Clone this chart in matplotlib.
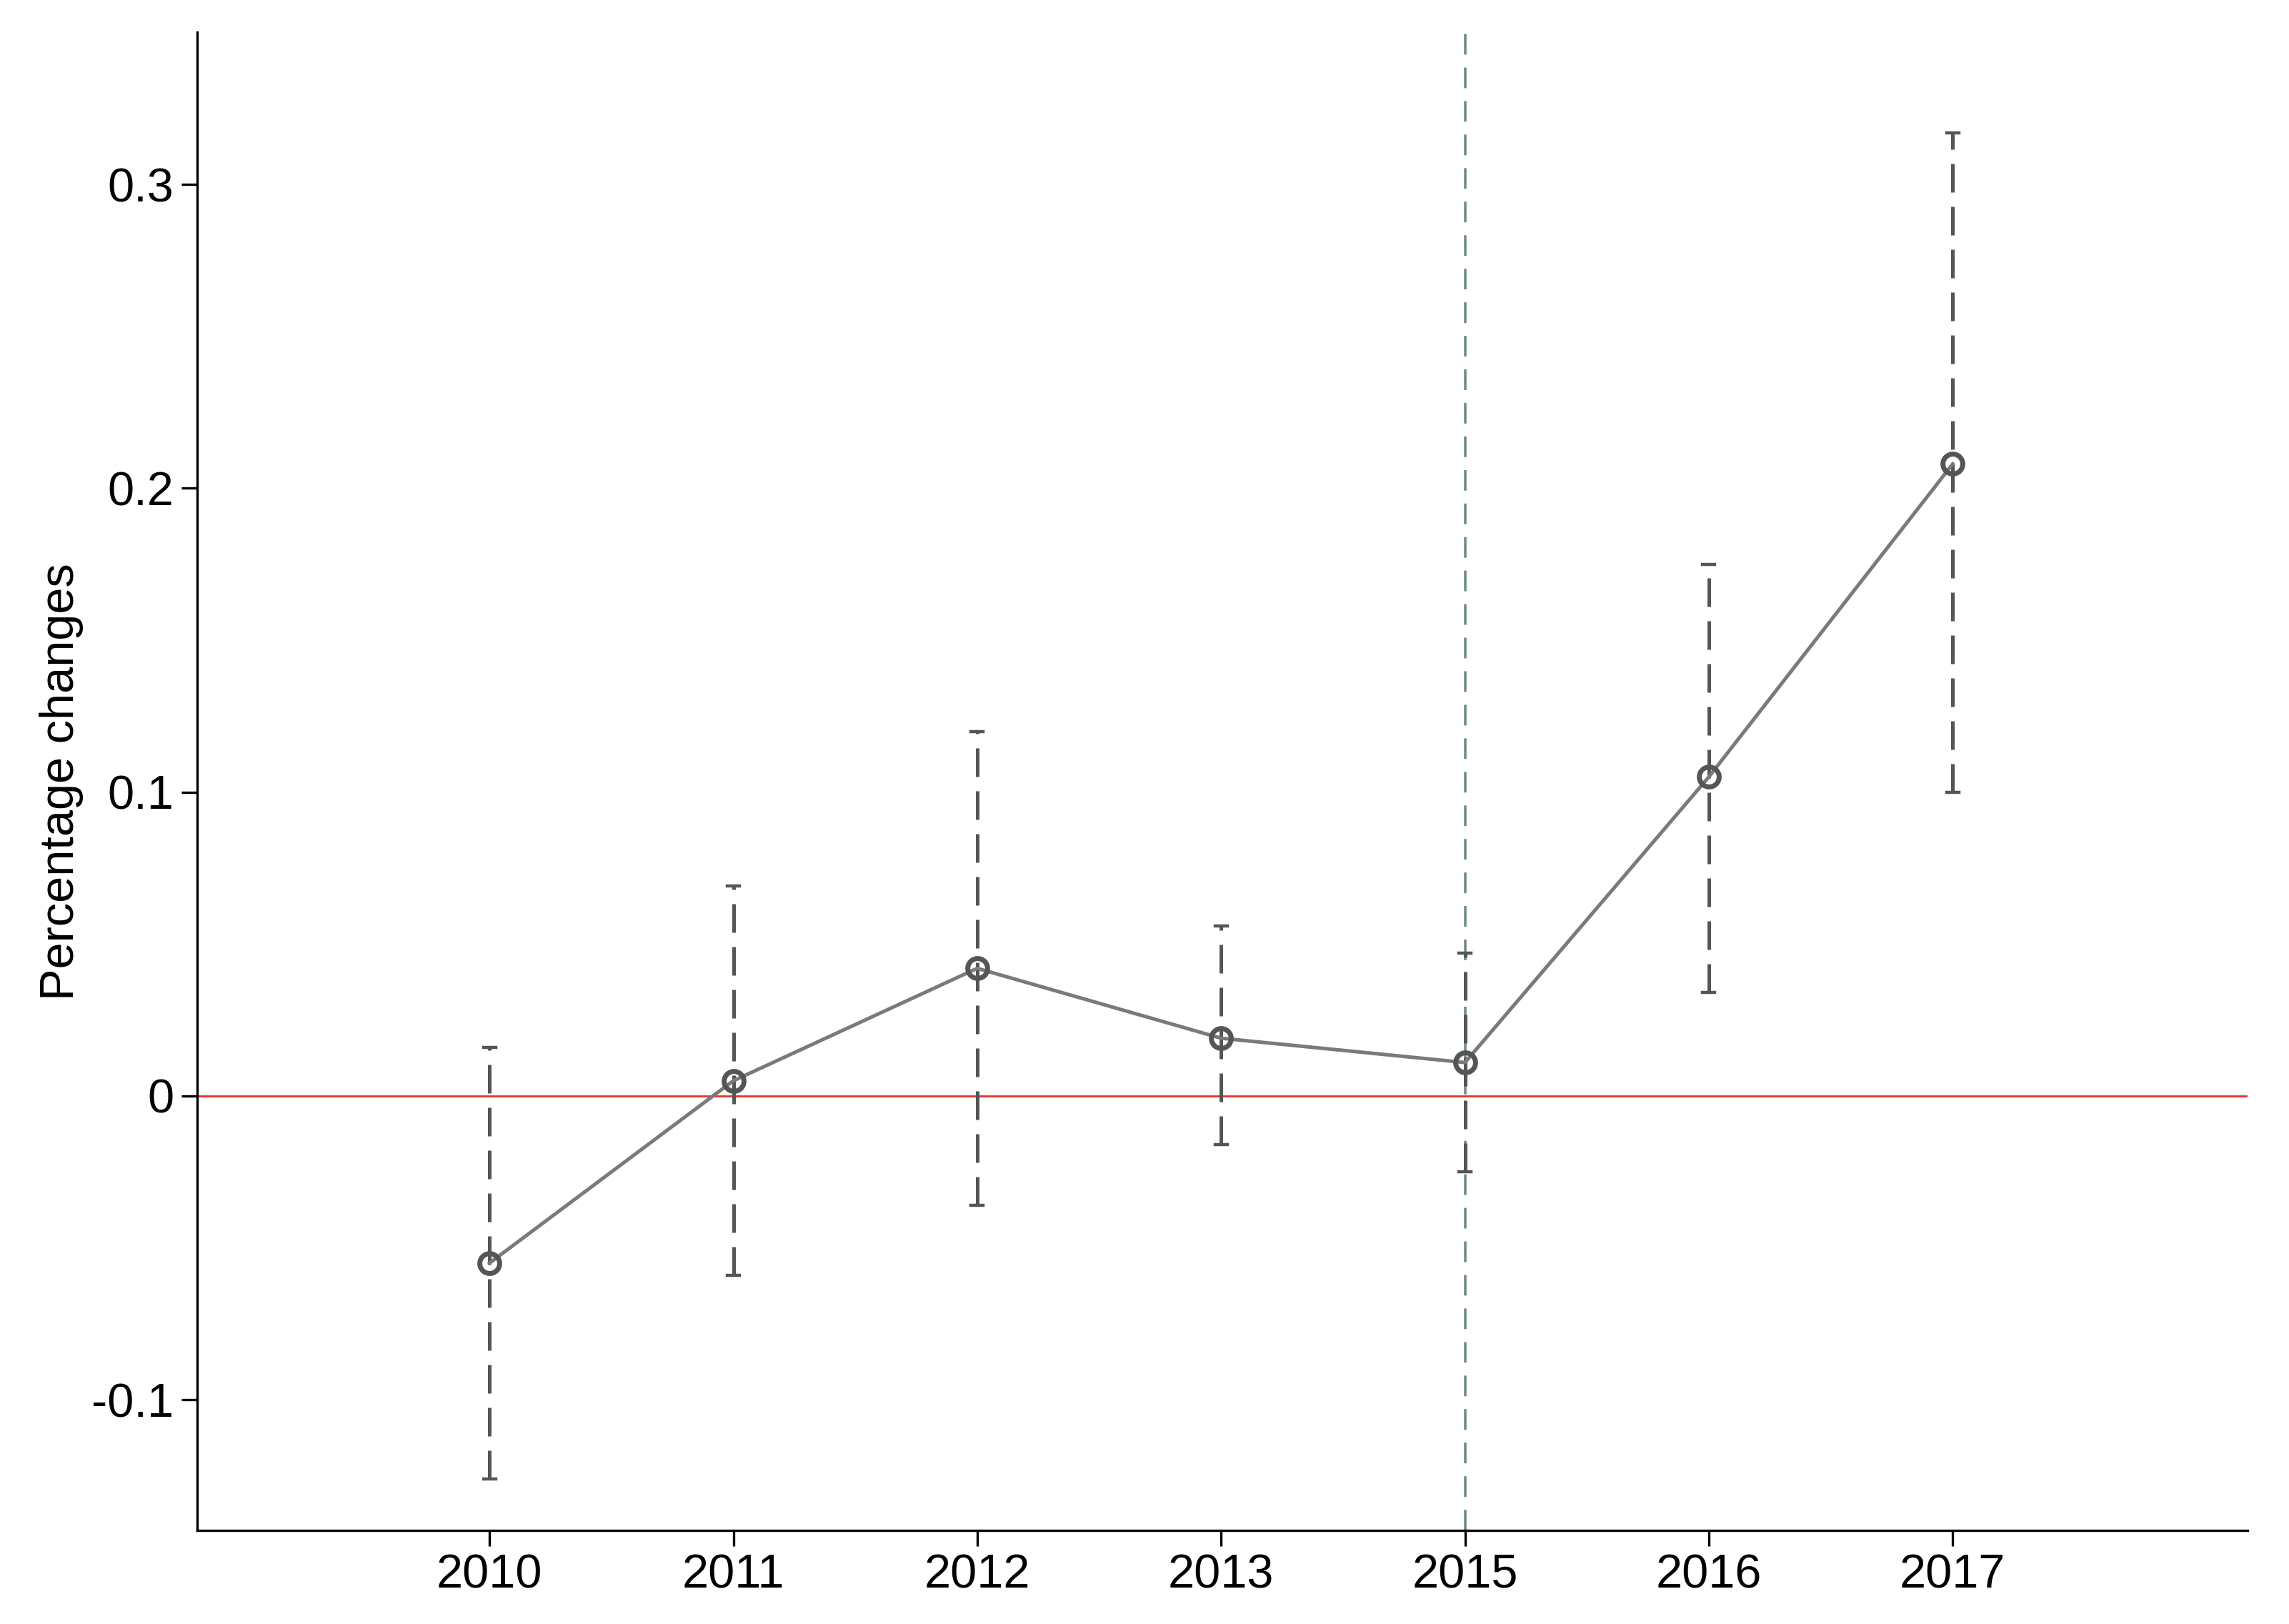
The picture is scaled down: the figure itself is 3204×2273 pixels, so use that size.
import matplotlib
matplotlib.use("Agg")
import matplotlib.pyplot as plt
import numpy as np

years = ["2010", "2011", "2012", "2013", "2015", "2016", "2017"]
estimates = [-0.055, 0.005, 0.042, 0.019, 0.011, 0.105, 0.208]
ci_upper = [0.016, 0.069, 0.120, 0.056, 0.047, 0.175, 0.317]
ci_lower = [-0.126, -0.059, -0.036, -0.016, -0.025, 0.034, 0.100]
event_year = "2015"

plt.rcParams['font.family'] = ['Liberation Sans', 'DejaVu Sans']
fig = plt.figure(figsize=(16.02, 11.365), dpi=200)
ax = fig.add_axes([0.086, 0.0576, 0.896, 0.9224])
x = np.arange(len(years))

ax.axhline(0, color='#e8332a', lw=1.0, zorder=1)
ax.axvline(years.index(event_year), color='#6f8f84', lw=1.3, ls=(0, (8, 5)), zorder=1)

for xi, lo, hi in zip(x, ci_lower, ci_upper):
    ax.plot([xi, xi], [lo, hi], color='#555555', lw=1.8, ls=(0, (8, 4)), zorder=2)
    ax.plot([xi - 0.025, xi + 0.025], [hi, hi], color='#555555', lw=1.6, zorder=2)
    ax.plot([xi - 0.025, xi + 0.025], [lo, lo], color='#555555', lw=1.6, zorder=2)

ax.plot(x, estimates, color='#7a7a7a', lw=1.8, marker='o', ms=10, mfc='none',
        mec='#555555', mew=2.5, zorder=3)

ax.set_xlim(-1.2, 7.21)
ax.set_ylim(-0.143, 0.350)
ax.set_xticks(x)
ax.set_xticklabels(years)
ax.set_yticks([-0.1, 0, 0.1, 0.2, 0.3])
ax.set_yticklabels(["-0.1", "0", "0.1", "0.2", "0.3"])
ax.tick_params(labelsize=24, length=8, width=1.2)
ax.set_ylabel("Percentage changes", fontsize=24)
for s in ['top', 'right']:
    ax.spines[s].set_visible(False)
for s in ['left', 'bottom']:
    ax.spines[s].set_linewidth(1.2)

fig.savefig("out.png", dpi=200)
